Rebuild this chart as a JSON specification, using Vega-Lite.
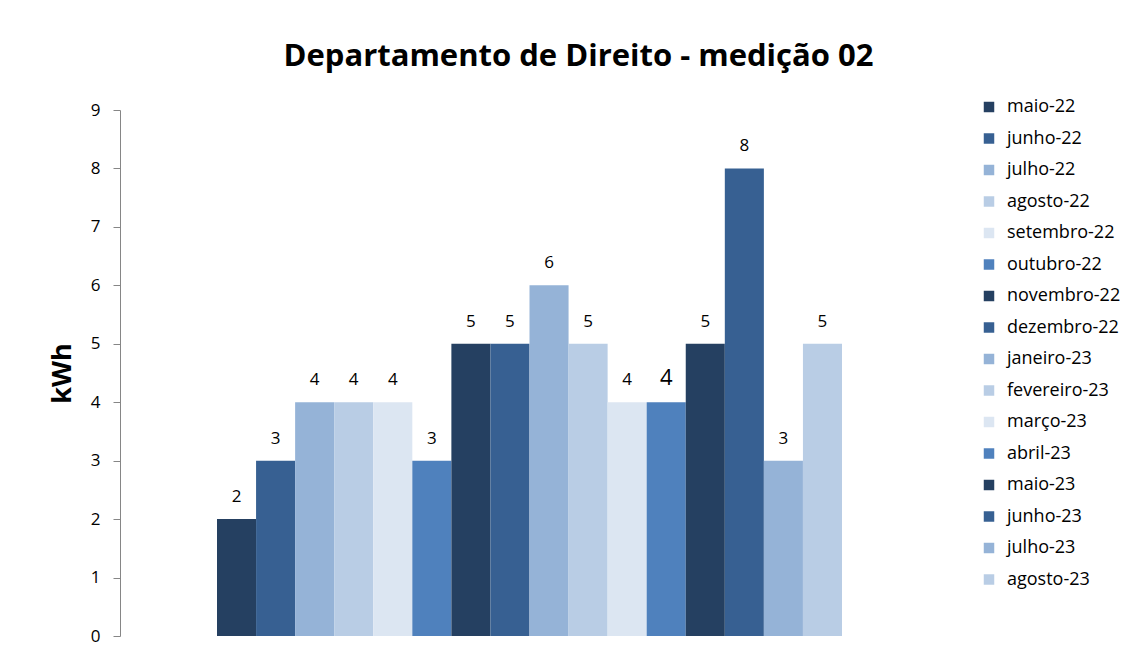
{
  "$schema": "https://vega.github.io/schema/vega-lite/v6.json",
  "autosize": {"type": "none"},
  "padding": {"left": 217, "top": 110, "right": 293, "bottom": 21},
  "width": 625,
  "height": 526,
  "background": "white",
  "title": {
    "text": "Departamento de Direito - medição 02",
    "font": "Open Sans",
    "fontSize": 31,
    "fontWeight": "bold",
    "color": "#000000",
    "anchor": "middle",
    "frame": "group",
    "dx": 49,
    "offset": 25
  },
  "data": {
    "values": [
      {"mes": "maio-22", "kwh": 2},
      {"mes": "junho-22", "kwh": 3},
      {"mes": "julho-22", "kwh": 4},
      {"mes": "agosto-22", "kwh": 4},
      {"mes": "setembro-22", "kwh": 4},
      {"mes": "outubro-22", "kwh": 3},
      {"mes": "novembro-22", "kwh": 5},
      {"mes": "dezembro-22", "kwh": 5},
      {"mes": "janeiro-23", "kwh": 6},
      {"mes": "fevereiro-23", "kwh": 5},
      {"mes": "março-23", "kwh": 4},
      {"mes": "abril-23", "kwh": 4},
      {"mes": "maio-23", "kwh": 5},
      {"mes": "junho-23", "kwh": 8},
      {"mes": "julho-23", "kwh": 3},
      {"mes": "agosto-23", "kwh": 5}
    ]
  },
  "encoding": {
    "x": {
      "field": "mes",
      "type": "nominal",
      "sort": null,
      "axis": null,
      "scale": {"paddingInner": 0, "paddingOuter": 0}
    },
    "y": {
      "field": "kwh",
      "type": "quantitative",
      "scale": {"domain": [0, 9], "nice": false},
      "axis": {
        "offset": 97,
        "title": "kWh",
        "titleFont": "Open Sans",
        "titleFontSize": 27,
        "titleFontWeight": "bold",
        "titleColor": "#000000",
        "titlePadding": 14,
        "values": [0, 1, 2, 3, 4, 5, 6, 7, 8, 9],
        "grid": false,
        "domainColor": "#868686",
        "domainWidth": 1,
        "tickColor": "#868686",
        "tickSize": 7,
        "labelFont": "Open Sans",
        "labelFontSize": 17,
        "labelColor": "#000000",
        "labelPadding": 13
      }
    }
  },
  "layer": [
    {
      "mark": {"type": "bar"},
      "encoding": {
        "color": {
          "field": "mes",
          "type": "nominal",
          "sort": null,
          "scale": {
            "range": ["#254061", "#376092", "#95B3D7", "#B9CDE5", "#DCE6F2", "#4F81BD", "#254061", "#376092", "#95B3D7", "#B9CDE5", "#DCE6F2", "#4F81BD", "#254061", "#376092", "#95B3D7", "#B9CDE5"]
          },
          "legend": {
            "title": null,
            "orient": "none",
            "legendX": 763,
            "legendY": -12,
            "symbolType": "square",
            "symbolSize": 110,
            "symbolStrokeWidth": 0,
            "labelFont": "Open Sans",
            "labelFontSize": 18,
            "labelColor": "#000000",
            "labelOffset": 9,
            "rowPadding": 13.5,
            "labelLimit": 200
          }
        }
      }
    },
    {
      "mark": {"type": "text", "baseline": "alphabetic", "dy": -17, "font": "Open Sans", "color": "#000000"},
      "encoding": {
        "text": {"field": "kwh", "type": "quantitative"},
        "size": {"condition": {"test": "datum.mes === 'abril-23'", "value": 22}, "value": 17}
      }
    }
  ],
  "config": {"view": {"stroke": null}}
}
